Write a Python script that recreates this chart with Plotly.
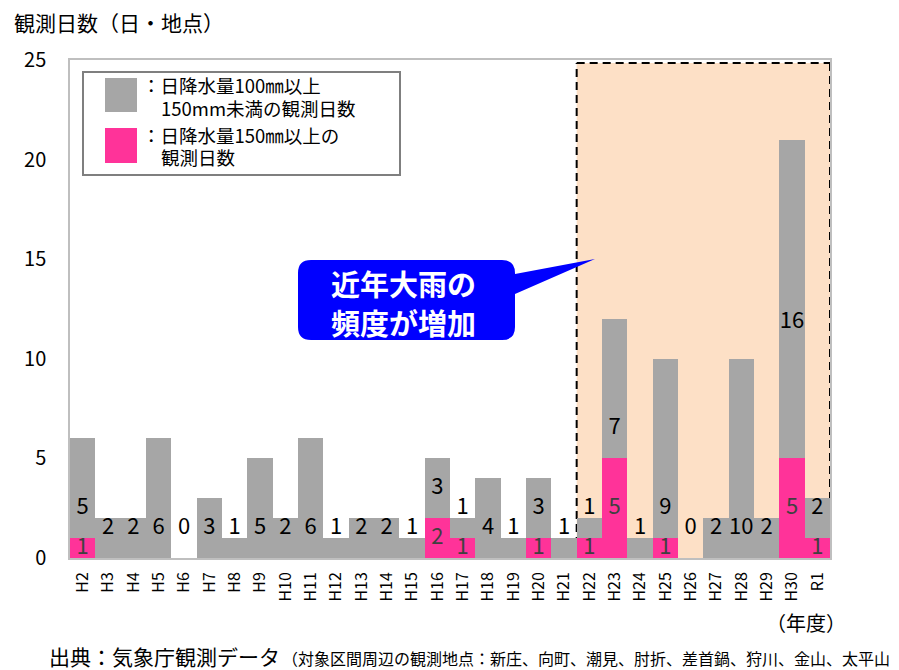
import plotly.graph_objects as go

# ---- data ----
categories = ["H2", "H3", "H4", "H5", "H6", "H7", "H8", "H9", "H10", "H11",
              "H12", "H13", "H14", "H15", "H16", "H17", "H18", "H19", "H20", "H21",
              "H22", "H23", "H24", "H25", "H26", "H27", "H28", "H29", "H30", "R1"]
days_100_150 = [5, 2, 2, 6, 0, 3, 1, 5, 2, 6,
                1, 2, 2, 1, 3, 1, 4, 1, 3, 1,
                1, 7, 1, 9, 0, 2, 10, 2, 16, 2]
days_150_over = [1, 0, 0, 0, 0, 0, 0, 0, 0, 0,
                 0, 0, 0, 0, 2, 1, 0, 0, 1, 0,
                 1, 5, 0, 1, 0, 0, 0, 0, 5, 1]
y_ticks = [0, 5, 10, 15, 20, 25]
recent_start = "H22"

FONT = "Noto Sans CJK JP"
GRAY = "#A6A6A6"
PINK = "#FF3399"

# page body has an 8px margin, so the figure is drawn 8px in from the window corner
OFF = 8
WIN_W, WIN_H = 899, 670
W, H = WIN_W - OFF, WIN_H - OFF
# plot area in window pixels
L, R, T, B = 70, 830, 60, 558


def px(x):
    return (x - L) / (R - L)


def py(y):
    return (B - y) / (B - T)


# grey label sits just above the base of its segment (Excel "inside base");
# one label was manually lifted in the original
manual_label_lift = {"H30": 11.8}
gray_label_y = [manual_label_lift.get(c, p + 1.5) for c, p in zip(categories, days_150_over)]
pink_x = [c for c, p in zip(categories, days_150_over) if p > 0]
pink_v = [p for p in days_150_over if p > 0]
pink_label_y = [p / 2 for p in pink_v]

fig = go.Figure()
fig.add_trace(go.Bar(x=categories, y=days_150_over, marker_color=PINK,
                     marker_line_width=0, hoverinfo="skip", showlegend=False))
fig.add_trace(go.Bar(x=categories, y=days_100_150, marker_color=GRAY,
                     marker_line_width=0, hoverinfo="skip", showlegend=False))
fig.add_trace(go.Scatter(x=categories, y=gray_label_y, mode="text",
                         text=[str(v) for v in days_100_150],
                         textfont=dict(size=22, color="#000000", family=FONT),
                         hoverinfo="skip", showlegend=False))
fig.add_trace(go.Scatter(x=pink_x, y=pink_label_y, mode="text",
                         text=[str(v) for v in pink_v],
                         textfont=dict(size=22, color="#404040", family=FONT),
                         hoverinfo="skip", showlegend=False))

i0 = categories.index(recent_start) - 0.5
i1 = len(categories) - 0.5
top = 24.85
shapes = [
    dict(type="rect", xref="x", yref="y", x0=i0, x1=i1, y0=0, y1=top,
         fillcolor="#FDE0C6", line_width=0, layer="below"),
]
dash_style = dict(color="#000000", width=2, dash="8px,5px")
for (xa, ya, xb, yb) in [(i0, 0, i0, top), (i0, top, i1, top), (i1, top, i1, 0)]:
    shapes.append(dict(type="line", xref="x", yref="y", x0=xa, y0=ya, x1=xb, y1=yb,
                       line=dash_style, layer="below"))

# legend box
shapes.append(dict(type="rect", xref="paper", yref="paper",
                   x0=px(83), x1=px(400), y0=py(175), y1=py(72),
                   fillcolor="white", line=dict(color="#7F7F7F", width=2)))
shapes.append(dict(type="rect", xref="paper", yref="paper",
                   x0=px(105), x1=px(137), y0=py(112), y1=py(78),
                   fillcolor=GRAY, line_width=0))
shapes.append(dict(type="rect", xref="paper", yref="paper",
                   x0=px(105), x1=px(137), y0=py(163), y1=py(128),
                   fillcolor=PINK, line_width=0))

# callout bubble
cl, cr, ct, cb, r = 298, 515, 260, 340, 13
tipx, tipy = 595, 259


def P(x, y):
    return f"{px(x):.5f},{py(y):.5f}"


path = (f"M {P(cl + r, ct)} L {P(cr - r, ct)} Q {P(cr, ct)} {P(cr, ct + r)} "
        f"L {P(cr, 274)} L {P(tipx, tipy)} L {P(cr, 294)} "
        f"L {P(cr, cb - r)} Q {P(cr, cb)} {P(cr - r, cb)} "
        f"L {P(cl + r, cb)} Q {P(cl, cb)} {P(cl, cb - r)} "
        f"L {P(cl, ct + r)} Q {P(cl, ct)} {P(cl + r, ct)} Z")
shapes.append(dict(type="path", xref="paper", yref="paper", path=path,
                   fillcolor="#0000FF", line_width=0))


def note(text, x, y, size, anchor="left", color="#000000"):
    return dict(text=text, x=px(x), y=py(y), xref="paper", yref="paper",
                xanchor=anchor, yanchor="middle", showarrow=False,
                font=dict(size=size, color=color, family=FONT))


annotations = [
    note("観測日数（日・地点）", 12, 22, 21),
    note("（年度）", 806, 622, 20, "center"),
    note("出典：気象庁観測データ", 47, 656, 21),
    note("（対象区間周辺の観測地点：新庄、向町、潮見、肘折、差首鍋、狩川、金山、太平山", 280, 658, 16),
    note("：日降水量100㎜以上", 140, 85, 18.5),
    note("150mm未満の観測日数", 159, 108, 18.5),
    note("：日降水量150㎜以上の", 140, 135, 18.5),
    note("観測日数", 159, 157, 18.5),
    note("<b>近年大雨の</b>", 403, 283, 29, "center", "#FFFFFF"),
    note("<b>頻度が増加</b>", 403, 322, 29, "center", "#FFFFFF"),
]

fig.update_layout(
    width=W, height=H,
    margin=dict(l=L - OFF, r=W - (R - OFF), t=T - OFF, b=H - (B - OFF), pad=0),
    barmode="stack", bargap=0,
    plot_bgcolor="white", paper_bgcolor="white",
    font=dict(family=FONT, color="#000000"),
    shapes=shapes, annotations=annotations,
    showlegend=False,
)
fig.update_xaxes(type="category", range=[-0.5, len(categories) - 0.5],
                 tickangle=-90, ticks="", ticklabelstandoff=6,
                 tickfont=dict(size=16, color="#000000", family=FONT),
                 showline=True, mirror=True, linecolor="#BFBFBF", linewidth=1.5,
                 showgrid=False, zeroline=False, fixedrange=True, automargin=False)
fig.update_yaxes(range=[0, 25], tickvals=y_ticks, ticks="", ticklabelstandoff=18,
                 tickfont=dict(size=20, color="#000000", family=FONT),
                 showline=True, mirror=True, linecolor="#BFBFBF", linewidth=1.5,
                 showgrid=False, zeroline=False, fixedrange=True, automargin=False)

fig.write_html("out.html")
